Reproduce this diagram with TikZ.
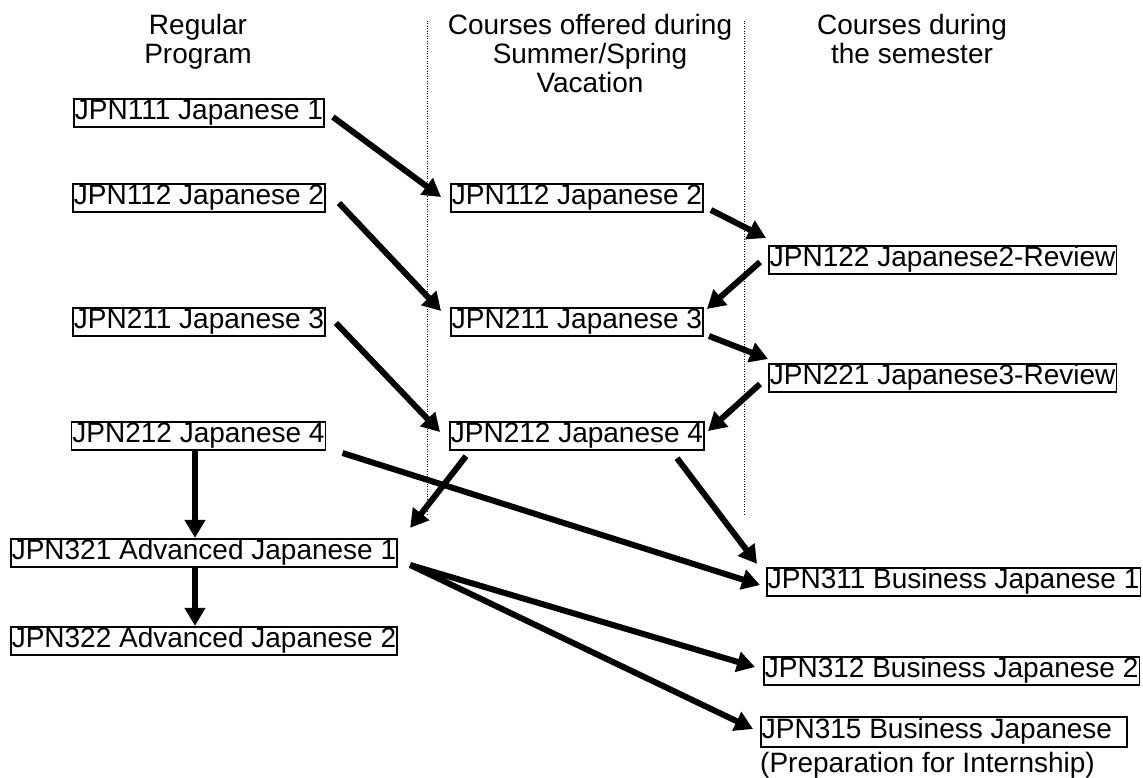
\documentclass[tikz,border=0pt]{standalone}
\usepackage{fontspec}
\setmainfont{Liberation Sans}
\usetikzlibrary{arrows.meta,calc}
\begin{document}
\begin{tikzpicture}[x=1pt,y=-1pt,
  box/.style={draw,line width=1.8pt,inner xsep=1pt,inner ysep=1pt,text height=20pt,text depth=6.5pt,font=\fontsize{28}{29}\selectfont},
  hdr/.style={align=center,font=\fontsize{28}{29}\selectfont,inner sep=0pt,anchor=north},
  arr/.style={line width=6pt,-{Triangle[length=18pt,width=20pt]}},
  sepline/.style={line width=1pt,dash pattern=on 1pt off 1.5pt}]
\useasboundingbox (0,0) rectangle (1143,778);

% headers
\node[hdr] (h1) at (198,14) {Regular\\Program};
\node[hdr] (h2) at (590,14) {Courses offered during\\Summer/Spring\\Vacation};
\node[hdr] (h3) at (912,14) {Courses during\\the semester};

% dotted separators
\coordinate (d1t) at (427,21); \coordinate (d1b) at (427,516);
\coordinate (d2t) at (744,21); \coordinate (d2b) at (744,516);
\draw[sepline] (d1t) -- (d1b);
\draw[sepline] (d2t) -- (d2b);

% left column
\node[box] (a1) at (199,113) {JPN111 Japanese 1};
\node[box] (a2) at (199,198) {JPN112 Japanese 2};
\node[box] (a3) at (199,322) {JPN211 Japanese 3};
\node[box] (a4) at (198.5,436) {JPN212 Japanese 4};
\node[box] (a5) at (204,553) {JPN321 Advanced Japanese 1};
\node[box] (a6) at (204,641) {JPN322 Advanced Japanese 2};

% middle column
\node[box] (b1) at (577,198) {JPN112 Japanese 2};
\node[box] (b2) at (577,322) {JPN211 Japanese 3};
\node[box] (b3) at (577,436) {JPN212 Japanese 4};

% right column
\node[box,anchor=west] (c1) at (768,260) {JPN122 Japanese2-Review};
\node[box,anchor=west] (c2) at (768,378) {JPN221 Japanese3-Review};
\node[box,anchor=west] (c3) at (766,582) {JPN311 Business Japanese 1};
\node[box,anchor=west] (c4) at (763,671) {JPN312 Business Japanese 2};
\node[box,anchor=west,text depth=8pt] (c5) at (760,732) {JPN315 Business Japanese\hspace*{14pt}};
\node[anchor=base west,inner sep=0pt,font=\fontsize{28}{29}\selectfont] (c5x) at ($(c5.south west)+(0,25)$) {(Preparation for Internship)};

% arrows
\draw[arr] ($(a1.east)+(8,4)$) -- ($(b1.west)+(-9,-1)$);
\draw[arr] ($(a2.east)+(13,5)$) -- ($(b2.west)+(-9,-11)$);
\draw[arr] ($(a3.east)+(10,1)$) -- ($(b3.west)+(-9,-4)$);
\draw[arr] ($(b1.east)+(7,12)$) -- ($(c1.west)+(-2,-22)$);
\draw[arr] ($(c1.west)+(-8,2)$) -- ($(b2.east)+(3,-13)$);
\draw[arr] ($(b2.east)+(5,14)$) -- ($(c2.west)+(0,-19)$);
\draw[arr] ($(c2.west)+(-8,6)$) -- ($(b3.east)+(3,-5)$);
\draw[arr] ($(a4.east)+(16,17)$) -- ($(c3.west)+(-6,3)$);
\draw[arr] ($(b3.south west)+(17,5)$) -- ($(a5.north east)+(12,-10)$);
\draw[arr] ($(b3.south east)+(-28,7)$) -- ($(c3.north west)+(-9,-3)$);
\draw[arr] ([xshift=-3.5pt]a4.south) -- ([xshift=-9pt]a5.north);
\draw[arr] ([xshift=-9pt]a5.south) -- ([xshift=-9pt]a6.north);
\draw[arr] ($(a5.east)+(12,12)$) -- ($(c4.west)+(-8,-4)$);
\draw[arr] ($(a5.east)+(12,12)$) -- ($(c5.west)+(-7,-3)$);
\end{tikzpicture}
\end{document}
